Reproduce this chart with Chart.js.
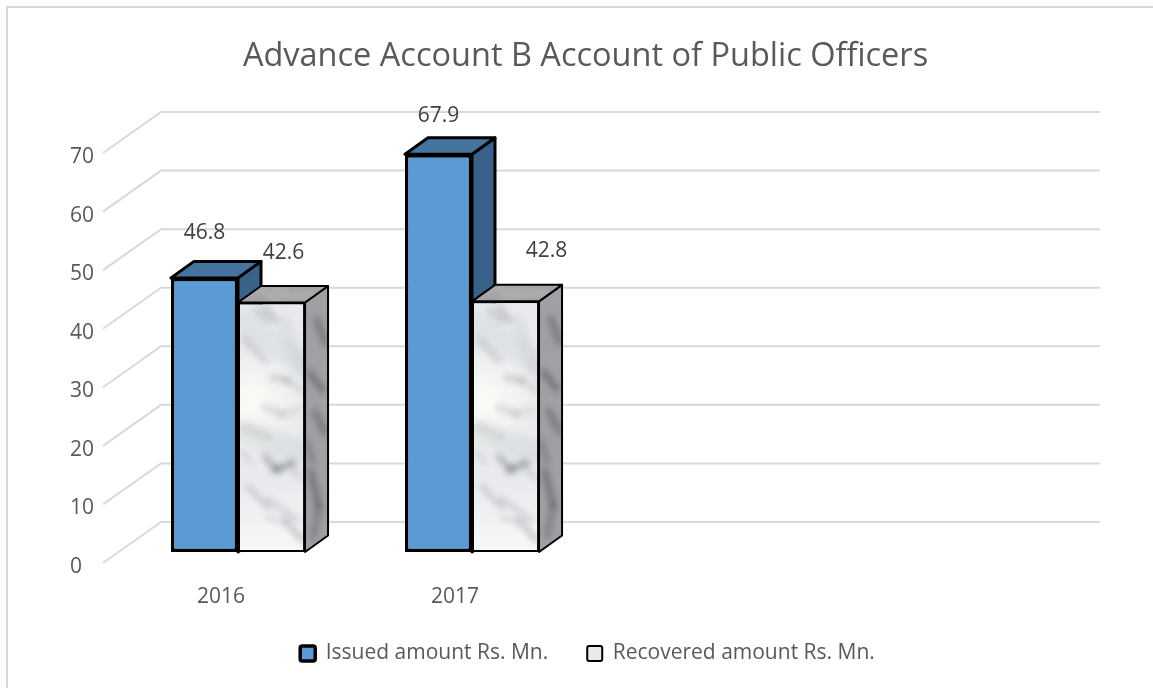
<!DOCTYPE html>
<html>
<head>
<meta charset="utf-8">
<title>Advance Account B Account of Public Officers</title>
<script src="https://cdn.jsdelivr.net/npm/chart.js@4"></script>
<style>
  html, body { margin: 0; padding: 0; background: #fff; overflow: hidden; }
  #frame {
    position: absolute; left: 6px; top: 6px; right: 0; bottom: 0;
    border-left: 2px solid #d9d9d9; border-top: 2px solid #d9d9d9;
  }
  canvas { position: absolute; left: 20px; top: 0; }
</style>
</head>
<body>
<div id="frame"></div>
<canvas id="chart" width="1133" height="688"></canvas>
<script>
var chartTitle = "Advance Account B Account of Public Officers";
var categories = ["2016", "2017", "", ""];
var seriesNames = ["Issued amount Rs. Mn.", "Recovered amount Rs. Mn."];
var issued = [46.8, 67.9];
var recovered = [42.6, 42.8];
var yTicks = [0, 10, 20, 30, 40, 50, 60, 70];

// hand placed value labels in the original: [dx from bar centre, dy from bar top]
var issuedLabelShift = [[0, -45], [0, -38]];
var recoveredLabelShift = [[12, -49], [41, -50]];

var FONT = "'Open Sans', sans-serif";
var TEXT = "#595959";
var BAR_DX = 23;
var BAR_DY = 16.5;

// marble veins, bar relative: x1, y1, x2, y2, width, alpha
var frontVeins = [
  [5, 20, 60, 60, 22, 0.06], [10, 130, 60, 150, 24, 0.07], [45, 20, 65, 70, 14, 0.07],
  [17, 8, 30, 18, 6, 0.22], [27, 5, 37, 18, 6, 0.25], [7, 38, 27, 58, 8, 0.18],
  [34, 76, 50, 78, 6, 0.24], [48, 78, 64, 88, 5, 0.2], [27, 105, 44, 112, 7, 0.18],
  [44, 112, 60, 108, 6, 0.14], [5, 125, 30, 135, 7, 0.14],
  [27, 155, 40, 168, 6, 0.4], [37, 168, 54, 161, 7, 0.45], [54, 165, 62, 175, 5, 0.2],
  [10, 185, 30, 205, 5, 0.26], [30, 198, 60, 218, 6, 0.2], [47, 218, 64, 238, 6, 0.3],
  [5, 150, 12, 160, 5, 0.14], [30, 215, 44, 220, 5, 0.18]
];
var sideVeins = [
  [12, 18, 20, 40, 7, 0.4], [4, 70, 18, 88, 5, 0.6], [10, 110, 20, 130, 7, 0.4],
  [2, 140, 8, 160, 6, 0.3], [6, 170, 14, 205, 6, 0.5], [14, 205, 8, 235, 6, 0.35]
];
var topVeins = [
  [10, 6, 50, 4, 4, 0.25], [30, 12, 75, 8, 4, 0.28]
];

function drawVeins(ctx, veins, x, y, color) {
  ctx.save();
  ctx.filter = "blur(3px)";
  ctx.lineCap = "round";
  for (var i = 0; i < veins.length; i++) {
    var v = veins[i];
    ctx.strokeStyle = color;
    ctx.globalAlpha = v[5];
    ctx.lineWidth = v[4];
    ctx.beginPath();
    ctx.moveTo(x + v[0], y + v[1]);
    ctx.lineTo(x + v[2], y + v[3]);
    ctx.stroke();
  }
  ctx.restore();
}

// tile is one category wide, so both recovered bars get the same stone
function makeMarble() {
  var tile = document.createElement("canvas");
  tile.width = 234;
  tile.height = 688;
  var c = tile.getContext("2d");
  c.fillStyle = "#e8eaed";
  c.fillRect(0, 0, 234, 688);
  var x = 4;
  var glow = c.createRadialGradient(x + 14, 400, 5, x + 14, 400, 55);
  glow.addColorStop(0, "rgba(250,251,246,1)");
  glow.addColorStop(1, "rgba(250,251,246,0)");
  c.fillStyle = glow;
  c.fillRect(0, 300, 234, 250);
  var low = c.createLinearGradient(0, 480, 0, 552);
  low.addColorStop(0, "rgba(255,255,255,0)");
  low.addColorStop(1, "rgba(255,255,255,0.7)");
  c.fillStyle = low;
  c.fillRect(0, 480, 234, 72);
  drawVeins(c, frontVeins, x, 302, "#5c6068");
  var pattern = document.getElementById("chart").getContext("2d").createPattern(tile, "repeat");
  pattern.setTransform(new DOMMatrix().translate(214, 0));
  return pattern;
}

function face(ctx, pts, fill, line, lw, veins, vx, vy, veinColor) {
  var path = new Path2D();
  path.moveTo(pts[0][0], pts[0][1]);
  for (var i = 1; i < pts.length; i++) path.lineTo(pts[i][0], pts[i][1]);
  path.closePath();
  ctx.save();
  ctx.fillStyle = fill;
  ctx.fill(path);
  if (veins) {
    ctx.save();
    ctx.clip(path);
    drawVeins(ctx, veins, vx, vy, veinColor);
    ctx.restore();
  }
  ctx.strokeStyle = line;
  ctx.lineWidth = lw;
  ctx.lineJoin = "round";
  ctx.stroke(path);
  ctx.restore();
}

var depthPlugin = {
  id: "depth",
  // title and legend sit right of the plot centre in the original
  afterLayout: function (chart) {
    chart.titleBlock.left += 22;
    chart.titleBlock.right += 22;
    chart.legend.left += 24;
    chart.legend.right += 24;
  },
  beforeDatasetsDraw: function (chart) {
    var ctx = chart.ctx;
    var yScale = chart.scales.y;
    var area = chart.chartArea;

    // back wall grid, running off the axis labels
    ctx.save();
    ctx.strokeStyle = "#d9d9d9";
    ctx.lineWidth = 2;
    for (var i = 0; i < yTicks.length; i++) {
      var py = yScale.getPixelForValue(yTicks[i]);
      ctx.beginPath();
      ctx.moveTo(area.left - 18, py + 11);
      ctx.lineTo(area.left + 40, py - 30);
      ctx.lineTo(area.right + 43, py - 30);
      ctx.stroke();
    }
    ctx.restore();

    // side and top faces of every bar, issued first so recovered overlaps it
    var sets = [
      { meta: chart.getDatasetMeta(0), top: "#44759f", side: "#39628a", lw: 3 },
      { meta: chart.getDatasetMeta(1), top: "#a2a3a4", side: "#9fa1a4", lw: 2, veined: true }
    ];
    for (var s = 0; s < sets.length; s++) {
      var set = sets[s];
      for (var b = 0; b < set.meta.data.length; b++) {
        var bar = set.meta.data[b];
        var l = bar.x - bar.width / 2;
        var r = bar.x + bar.width / 2;
        var t = bar.y;
        var base = bar.base;
        face(ctx,
          [[r, t], [r + BAR_DX, t - BAR_DY], [r + BAR_DX, base - BAR_DY], [r, base]],
          set.side, "#000", set.lw, set.veined ? sideVeins : null, r, t, "#44474c");
        face(ctx,
          [[l, t], [l + BAR_DX, t - BAR_DY], [r + BAR_DX, t - BAR_DY], [r, t]],
          set.top, "#000", set.lw, set.veined ? topVeins : null, l, t - BAR_DY, "#e8e8e8");
      }
    }
  },
  afterDatasetsDraw: function (chart) {
    var ctx = chart.ctx;
    var shifts = [issuedLabelShift, recoveredLabelShift];
    ctx.save();
    ctx.font = "21px " + FONT;
    ctx.fillStyle = "#404040";
    ctx.textAlign = "center";
    ctx.textBaseline = "middle";
    for (var d = 0; d < 2; d++) {
      var meta = chart.getDatasetMeta(d);
      var values = chart.data.datasets[d].data;
      for (var i = 0; i < values.length; i++) {
        ctx.fillText(values[i].toFixed(1),
          meta.data[i].x + shifts[d][i][0],
          meta.data[i].y + shifts[d][i][1]);
      }
    }
    ctx.restore();
  }
};

new Chart(document.getElementById("chart"), {
  type: "bar",
  plugins: [depthPlugin],
  data: {
    labels: categories,
    datasets: [
      {
        label: seriesNames[0],
        data: issued,
        backgroundColor: "#5b9bd5",
        borderColor: "#000",
        borderWidth: 3.5,
        borderSkipped: false
      },
      {
        label: seriesNames[1],
        data: recovered,
        backgroundColor: makeMarble(),
        borderColor: "#000",
        borderWidth: 2,
        borderSkipped: false
      }
    ]
  },
  options: {
    responsive: false,
    animation: false,
    layout: { padding: { left: 50, right: 96, top: 37, bottom: 14 } },
    scales: {
      x: {
        grid: { display: false, drawTicks: false },
        border: { display: false },
        ticks: {
          color: TEXT,
          font: { family: FONT, size: 21 },
          labelOffset: -17,
          padding: 32,
          maxRotation: 0
        },
        afterFit: function (scale) { scale.height = 52; }
      },
      y: {
        min: 0,
        max: 70,
        grid: { display: false, drawTicks: false },
        border: { display: false },
        ticks: {
          stepSize: 10,
          color: TEXT,
          font: { family: FONT, size: 21 },
          crossAlign: "far",
          labelOffset: 15
        },
        afterFit: function (scale) { scale.width = 51; }
      }
    },
    datasets: { bar: { categoryPercentage: 0.573, barPercentage: 1 } },
    plugins: {
      title: {
        display: true,
        text: chartTitle,
        color: TEXT,
        font: { family: FONT, size: 32.5, weight: "normal" },
        padding: { top: 0, bottom: 66 }
      },
      legend: {
        position: "bottom",
        labels: {
          color: TEXT,
          font: { family: FONT, size: 21 },
          boxWidth: 15,
          boxHeight: 15,
          useBorderRadius: true,
          borderRadius: 2,
          padding: 39
        }
      },
      tooltip: { enabled: false }
    }
  }
});
</script>
</body>
</html>
